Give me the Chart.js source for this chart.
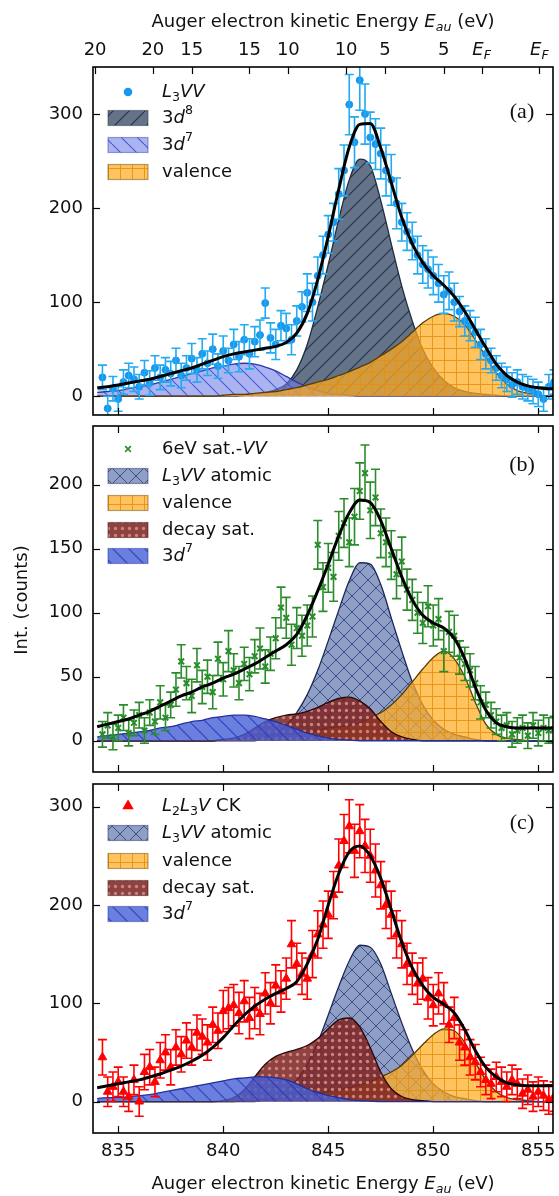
<!DOCTYPE html>
<html>
<head>
<meta charset="utf-8">
<script src="https://cdn.jsdelivr.net/npm/chart.js@4.4.0/dist/chart.umd.min.js"></script>
<style>
  body { margin: 0; background: #fff; }
  #wrap { position: relative; width: 559px; height: 1196px; }
  canvas { position: absolute; left: 0; }
</style>
</head>
<body>
<div id="wrap">
  <canvas id="pa" width="559" height="420" style="top:0;width:559px;height:420px"></canvas>
  <canvas id="pb" width="559" height="358" style="top:420px;width:559px;height:358px"></canvas>
  <canvas id="pc" width="559" height="418" style="top:778px;width:559px;height:418px"></canvas>
</div>
<script>
// x axis (eV)
const XMIN = 833.8, XMAX = 855.7;
const xTickVals = [835, 840, 845, 850, 855];
// top axis: positions on the bottom scale and their labels
const topTickPos = [833.9, 836.65, 838.5, 841.25, 843.1, 845.85, 847.7, 850.5, 852.3, 855.05];
const topTickLabels = ['20', '20', '15', '15', '10', '10', '5', '5', 'E_F', 'E_F'];

// grid of the fit curves
const fitE = [834, 834.5, 835, 835.5, 836, 836.5, 837, 837.5, 838, 838.5, 839, 839.5, 840, 840.5,
  841, 841.5, 842, 842.5, 843, 843.5, 844, 844.5, 845, 845.5, 846, 846.5, 847, 847.5, 848, 848.5,
  849, 849.5, 850, 850.5, 851, 851.5, 852, 852.5, 853, 853.5, 854, 854.5, 855, 855.5, 856];

// measured energies
const energies = [834.25, 834.5, 834.75, 835, 835.25, 835.5, 835.75, 836, 836.25, 836.5, 836.75, 837,
  837.25, 837.5, 837.75, 838, 838.25, 838.5, 838.75, 839, 839.25, 839.5, 839.75, 840,
  840.25, 840.5, 840.75, 841, 841.25, 841.5, 841.75, 842, 842.25, 842.5, 842.75, 843,
  843.25, 843.5, 843.75, 844, 844.25, 844.5, 844.75, 845, 845.25, 845.5, 845.75, 846,
  846.25, 846.5, 846.75, 847, 847.25, 847.5, 847.75, 848, 848.25, 848.5, 848.75, 849,
  849.25, 849.5, 849.75, 850, 850.25, 850.5, 850.75, 851, 851.25, 851.5, 851.75, 852,
  852.25, 852.5, 852.75, 853, 853.25, 853.5, 853.75, 854, 854.25, 854.5, 854.75, 855,
  855.25, 855.5, 855.75];

// ---- panel (a) L3VV ----
const a3d8 = [0, 0, 0, 0, 0, 0, 0, 0, 0, 0, 0, 0, 0, 0, 1, 2, 4, 7, 13, 28, 55, 95, 140, 188, 230, 252,
  245, 208, 162, 117, 80, 50, 30, 17, 9, 5, 3, 2, 1, 0, 0, 0, 0, 0, 0];
const a3d7 = [4, 5, 6, 8, 10, 12, 15, 18, 21, 24, 27, 30, 32, 34, 35, 34, 31, 27, 21, 15, 10, 6, 3, 2, 1,
  0, 0, 0, 0, 0, 0, 0, 0, 0, 0, 0, 0, 0, 0, 0, 0, 0, 0, 0, 0];
const aVal = [0, 0, 0, 0, 0, 0, 0, 0, 0, 0, 0, 0, 1, 2, 2, 3, 4, 5, 7, 9, 12, 15, 18, 22, 26, 31, 36, 43,
  50, 58, 68, 78, 85, 88, 85, 76, 60, 42, 25, 13, 6, 3, 1, 0, 0];
const aTot = [9, 10, 12, 14, 16, 18, 21, 24, 27, 30, 34, 38, 42, 45, 47, 49, 51, 53, 57, 67, 88, 124, 170,
  220, 265, 289, 290, 264, 227, 190, 162, 142, 128, 118, 106, 90, 71, 52, 34, 22, 15, 11, 9, 8, 8];
const aPts = [20, -13, 8, -3, 15, 22, 18, 10, 25, 14, 30, 20, 28, 24, 38, 22, 30, 40, 28, 45, 35, 50, 32, 48,
  38, 55, 42, 60, 45, 58, 65, 99, 62, 55, 75, 72, 60, 80, 95, 110, 100, 128, 150, 172, 185, 215, 240, 310,
  270, 336, 300, 275, 268, 258, 240, 230, 205, 185, 175, 165, 150, 140, 135, 128, 120, 108, 112, 100,
  90, 80, 75, 68, 55, 45, 38, 30, 22, 18, 12, 15, 10, 8, 5, 2, -3, 10, 15];
const aErr = [13, 13, 13, 13, 13, 13, 13, 13, 13, 13, 13, 13, 13, 13, 13, 13, 13, 16, 13, 16, 13, 16, 13, 16,
  13, 16, 16, 16, 16, 16, 16, 16, 16, 16, 16, 16, 16, 16, 16, 20, 20, 20, 20, 20, 20, 27, 27, 32,
  27, 32, 32, 27, 27, 27, 27, 27, 27, 20, 20, 20, 20, 20, 20, 20, 20, 20, 20, 20,
  16, 16, 16, 16, 16, 16, 13, 13, 13, 13, 13, 13, 13, 13, 13, 13, 13, 13, 13];

// ---- panel (b) 6eV sat.-VV ----
const bAtom = [0, 0, 0, 0, 0, 0, 0, 0, 0, 0, 0, 0, 0, 0, 0, 0, 3, 6, 12, 22, 36, 55, 78, 102, 125, 139,
  138, 122, 96, 70, 46, 28, 16, 9, 5, 3, 1, 0, 0, 0, 0, 0, 0, 0, 0];
const bVal = [0, 0, 0, 0, 0, 0, 0, 0, 0, 0, 0, 0, 1, 1, 2, 2, 3, 4, 5, 6, 7, 8, 10, 11, 12, 14, 18, 22,
  28, 36, 46, 56, 65, 70, 64, 50, 30, 13, 5, 2, 1, 0, 0, 0, 0];
const bDecay = [0, 0, 0, 0, 0, 0, 0, 0, 0, 0, 0, 0, 1, 2, 5, 10, 15, 18, 20, 21, 23, 26, 30, 33, 34, 31,
  25, 15, 7, 3, 1, 0, 0, 0, 0, 0, 0, 0, 0, 0, 0, 0, 0, 0, 0];
const b3d7 = [3, 4, 5, 6, 7, 8, 10, 11, 13, 15, 16, 18, 19, 20, 20, 19, 17, 15, 12, 9, 6, 4, 2, 1, 0.5,
  0, 0, 0, 0, 0, 0, 0, 0, 0, 0, 0, 0, 0, 0, 0, 0, 0, 0, 0, 0];
const bTot = [11, 13, 15, 17, 20, 23, 27, 31, 35, 38, 42, 45, 49, 52, 56, 60, 65, 70, 75, 83, 98, 117, 138,
  160, 178, 188, 186, 172, 150, 128, 110, 98, 92, 88, 80, 64, 42, 24, 14, 11, 10, 10, 10, 10, 10];
const bPts = [5, 12, 3, 10, 18, 6, 14, 20, 8, 22, 15, 30, 18, 28, 40, 62, 45, 35, 59, 42, 50, 38, 64, 48,
  70, 55, 45, 60, 52, 66, 72, 58, 68, 80, 104, 96, 75, 88, 82, 90, 97, 153, 120, 135, 128, 160, 170, 155,
  175, 195, 209, 180, 190, 162, 155, 145, 130, 140, 118, 110, 100, 92, 105, 90, 95, 70, 85, 82,
  65, 60, 55, 45, 30, 28, 20, 15, 10, 12, 5, 8, 10, 4, 12, 6, 10, 8, 9];
const bErr = [10, 10, 10, 10, 10, 10, 10, 10, 10, 10, 10, 13, 10, 10, 13, 13, 13, 13, 13, 13, 13, 13, 13, 13,
  16, 13, 13, 13, 13, 13, 16, 13, 13, 16, 16, 16, 16, 16, 16, 16, 16, 19, 19, 19, 19, 19, 19, 19,
  22, 22, 22, 22, 22, 19, 19, 19, 19, 19, 16, 16, 16, 16, 16, 16, 16, 16, 16, 16,
  13, 13, 13, 13, 13, 10, 10, 10, 10, 10, 10, 10, 10, 10, 10, 10, 10, 10, 10];

// ---- panel (c) L2L3V CK ----
const cAtom = [0, 0, 0, 0, 0, 0, 0, 0, 0, 0, 0, 0, 0, 0, 0, 0, 3, 6, 12, 22, 38, 60, 88, 117, 143, 159,
  157, 140, 110, 80, 53, 32, 18, 10, 5, 3, 1, 0, 0, 0, 0, 0, 0, 0, 0];
const cVal = [0, 0, 0, 0, 0, 0, 0, 0, 0, 0, 0, 0, 0, 0, 1, 1, 2, 3, 4, 5, 7, 8, 10, 12, 14, 17, 20, 25,
  30, 37, 47, 58, 68, 74, 72, 60, 40, 22, 10, 4, 2, 1, 0, 0, 0];
const cDecay = [0, 0, 0, 0, 0, 0, 0, 0, 0, 0, 0, 0, 1, 4, 12, 25, 38, 46, 50, 53, 57, 64, 74, 83, 85, 76,
  55, 30, 13, 5, 2, 1, 0, 0, 0, 0, 0, 0, 0, 0, 0, 0, 0, 0, 0];
const c3d7 = [3, 4, 4, 5, 6, 7, 9, 11, 13, 15, 17, 19, 21, 23, 24, 25, 25, 24, 22, 18, 13, 9, 6, 4, 2, 1,
  0.5, 0, 0, 0, 0, 0, 0, 0, 0, 0, 0, 0, 0, 0, 0, 0, 0, 0, 0];
const cTot = [14, 16, 18, 20, 22, 25, 28, 32, 36, 41, 47, 55, 65, 77, 88, 97, 104, 110, 115, 122, 140, 165,
  200, 232, 254, 260, 250, 227, 195, 162, 136, 118, 106, 99, 90, 73, 52, 35, 25, 19, 17, 16, 16, 16, 16];
const cPts = [45, 10, 15, 20, 10, 5, 22, 0, 30, 35, 20, 42, 50, 35, 55, 48, 62, 55, 70, 66, 60, 78, 72, 92,
  95, 98, 90, 102, 85, 95, 89, 110, 100, 118, 112, 125, 160, 140, 130, 125, 150, 170, 180, 190, 210, 240, 265, 280,
  255, 275, 260, 250, 235, 220, 200, 190, 170, 160, 140, 130, 120, 125, 105, 98, 110, 100, 78, 85,
  60, 55, 45, 40, 30, 22, 18, 25, 20, 15, 22, 18, 8, 12, 5, 10, 6, 2, 5];
const cErr = [18, 15, 15, 15, 15, 15, 15, 15, 18, 18, 15, 18, 18, 18, 18, 18, 18, 18, 18, 18, 18, 18, 18, 21,
  21, 21, 21, 21, 21, 21, 21, 21, 21, 21, 21, 21, 24, 21, 21, 21, 24, 24, 24, 24, 24, 27, 27, 27,
  27, 27, 27, 27, 27, 24, 24, 24, 24, 24, 21, 21, 21, 21, 21, 21, 21, 21, 18, 21,
  18, 18, 18, 18, 15, 15, 15, 15, 15, 15, 15, 15, 15, 15, 15, 15, 15, 15, 15];

const SANS = '"DejaVu Sans", "Liberation Sans", sans-serif';
Chart.defaults.font.family = SANS;
Chart.defaults.font.size = 18;
Chart.defaults.color = '#111';

// mixed italic / sub / sup text
function rich(ctx, segs, x, y, size, align) {
  const f = s => (s.i ? 'italic ' : '') + ((s.sub || s.sup) ? size * 0.7 : size) + 'px ' + SANS;
  let w = 0;
  const ws = segs.map(s => { ctx.font = f(s); const m = ctx.measureText(s.t).width; w += m; return m; });
  let cx = align === 'center' ? x - w / 2 : x;
  ctx.textAlign = 'left';
  ctx.textBaseline = 'middle';
  segs.forEach((s, k) => {
    ctx.font = f(s);
    const dy = s.sub ? size * 0.3 : s.sup ? -size * 0.38 : 0;
    ctx.fillText(s.t, cx, y + dy);
    cx += ws[k];
  });
}

function hatch(ctx, bg, fg, kind, S, lw) {
  const c = document.createElement('canvas');
  c.width = c.height = S;
  const g = c.getContext('2d');
  g.fillStyle = bg; g.fillRect(0, 0, S, S);
  g.strokeStyle = fg; g.fillStyle = fg; g.lineWidth = lw;
  const seg = (x1, y1, x2, y2) => { g.beginPath(); g.moveTo(x1, y1); g.lineTo(x2, y2); g.stroke(); };
  if (kind === '/' || kind === 'x') [-S, 0, S].forEach(k => seg(k, S, k + S, 0));
  if (kind === '\\' || kind === 'x') [-S, 0, S].forEach(k => seg(k, 0, k + S, S));
  if (kind === '+') { seg(0, 0.5, S, 0.5); seg(0.5, 0, 0.5, S); }
  if (kind === 'o') { g.beginPath(); g.arc(S / 2, S / 2, S * 0.24, 0, Math.PI * 2); g.fill(); }
  return ctx.createPattern(c, 'repeat');
}

const L3VV = [{ t: 'L', i: 1 }, { t: '3', sub: 1 }, { t: 'VV', i: 1 }];
const txt = {
  d8: [{ t: '3' }, { t: 'd', i: 1 }, { t: '8', sup: 1 }],
  d7: [{ t: '3' }, { t: 'd', i: 1 }, { t: '7', sup: 1 }],
  val: [{ t: 'valence' }],
  atom: L3VV.concat([{ t: ' atomic' }]),
  decay: [{ t: 'decay sat.' }]
};

const FILL = {
  d8: ['rgba(78,96,120,0.88)', 'rgba(30,45,70,0.9)', '/', 16, 1.2],
  d7a: ['rgba(115,128,232,0.6)', 'rgba(60,80,210,0.85)', '\\', 16, 1.2],
  d7: ['rgba(70,95,215,0.8)', 'rgba(40,60,190,0.9)', '\\', 16, 1.2],
  val: ['rgba(255,172,35,0.72)', 'rgba(232,145,15,0.9)', '+', 12, 1],
  atom: ['rgba(105,125,178,0.75)', 'rgba(45,65,125,0.85)', 'x', 16, 1],
  decay: ['rgba(125,35,35,0.86)', 'rgba(215,140,130,0.9)', 'o', 7, 1]
};
const EDGE = { d8: '#1f2d45', d7a: '#2a3aa8', d7: '#22309a', val: '#5a3d00', atom: '#1c2856', decay: '#2b0808' };

function panel(id, o) {
  const canvas = document.getElementById(id);
  const ctx = canvas.getContext('2d');
  const comps = o.comps.map(c => Object.assign({}, c, { pattern: hatch(ctx, ...FILL[c.key]) }));

  const datasets = [
    { type: 'line', data: fitE.map((e, i) => ({ x: e, y: o.total[i] })), borderColor: '#000', borderWidth: 3,
      pointRadius: 0, fill: false, cubicInterpolationMode: 'monotone', order: 0 },
    { type: 'scatter', data: energies.map((e, i) => ({ x: e, y: o.pts[i] })), err: o.err, errColor: o.errColor,
      pointStyle: o.marker, pointRadius: o.mr, backgroundColor: o.ptColor, borderColor: o.ptColor,
      borderWidth: o.mbw, order: 1 }
  ];
  comps.forEach((c, k) => datasets.push({
    type: 'line', data: fitE.map((e, i) => ({ x: e, y: c.data[i] })), borderColor: EDGE[c.key],
    borderWidth: 1.3, backgroundColor: c.pattern, fill: 'origin', pointRadius: 0,
    cubicInterpolationMode: 'monotone', order: 10 - k
  }));

  const errBars = {
    id: 'errbars',
    afterDatasetDraw(chart, args) {
      const ds = chart.data.datasets[args.index];
      if (!ds.err) return;
      const a = chart.chartArea, x = chart.scales.x, y = chart.scales.y;
      ctx.save();
      ctx.beginPath(); ctx.rect(a.left, a.top, a.right - a.left, a.bottom - a.top); ctx.clip();
      ctx.strokeStyle = ds.errColor; ctx.lineWidth = 1.6;
      ds.data.forEach((p, i) => {
        const px = x.getPixelForValue(p.x);
        const y1 = y.getPixelForValue(p.y - ds.err[i]), y2 = y.getPixelForValue(p.y + ds.err[i]);
        ctx.beginPath();
        ctx.moveTo(px, y1); ctx.lineTo(px, y2);
        ctx.moveTo(px - 4.5, y1); ctx.lineTo(px + 4.5, y1);
        ctx.moveTo(px - 4.5, y2); ctx.lineTo(px + 4.5, y2);
        ctx.stroke();
      });
      ctx.restore();
    }
  };

  const deco = {
    id: 'deco',
    afterDraw(chart) {
      const a = chart.chartArea, sx = chart.scales.x, sy = chart.scales.y;
      ctx.save();
      ctx.strokeStyle = '#000'; ctx.lineWidth = 1.2;
      const line = (x1, y1, x2, y2) => { ctx.beginPath(); ctx.moveTo(x1, y1); ctx.lineTo(x2, y2); ctx.stroke(); };
      xTickVals.forEach(v => { const px = Math.round(sx.getPixelForValue(v)) + 0.5; line(px, a.bottom, px, a.bottom - 7); });
      if (o.top) {
        const st = chart.scales.xTop;
        topTickPos.forEach(v => { const px = Math.round(st.getPixelForValue(v)) + 0.5; line(px, a.top, px, a.top + 7); });
      } else {
        xTickVals.forEach(v => { const px = Math.round(sx.getPixelForValue(v)) + 0.5; line(px, a.top, px, a.top + 7); });
      }
      o.yTicks.forEach(v => {
        const py = Math.round(sy.getPixelForValue(v)) + 0.5;
        line(a.left, py, a.left + 7, py); line(a.right, py, a.right - 7, py);
      });
      ctx.lineWidth = 1.6;
      ctx.strokeRect(a.left, a.top, a.right - a.left, a.bottom - a.top);

      ctx.fillStyle = '#111';
      if (o.top) {
        const st = chart.scales.xTop;
        topTickPos.forEach((v, k) => {
          const px = st.getPixelForValue(v);
          const segs = topTickLabels[k] === 'E_F' ? [{ t: 'E', i: 1 }, { t: 'F', i: 1, sub: 1 }] : [{ t: topTickLabels[k] }];
          rich(ctx, segs, px, 50, 18, 'center');
        });
        rich(ctx, [{ t: 'Auger electron kinetic Energy ' }, { t: 'E', i: 1 }, { t: 'au', i: 1, sub: 1 }, { t: ' (eV)' }],
          (a.left + a.right) / 2, 22, 18, 'center');
      }
      if (o.bottomTitle) {
        rich(ctx, [{ t: 'Auger electron kinetic Energy ' }, { t: 'E', i: 1 }, { t: 'au', i: 1, sub: 1 }, { t: ' (eV)' }],
          (a.left + a.right) / 2, o.bottomTitle, 18, 'center');
      }
      if (o.yTitle) {
        ctx.save();
        ctx.translate(22, o.yTitle);
        ctx.rotate(-Math.PI / 2);
        ctx.font = '18px ' + SANS; ctx.textAlign = 'center'; ctx.textBaseline = 'middle';
        ctx.fillText('Int. (counts)', 0, 0);
        ctx.restore();
      }

      // panel tag
      ctx.font = '22px "Liberation Serif", "DejaVu Serif", serif';
      ctx.textAlign = 'center'; ctx.textBaseline = 'middle';
      ctx.fillText(o.tag, 522, o.tagY);

      // legend
      const rows = o.legendY;
      ctx.fillStyle = o.ptColor; ctx.strokeStyle = o.ptColor;
      Chart.helpers.drawPoint(ctx, { pointStyle: o.marker, radius: o.mr, borderWidth: o.mbw }, 128, rows[0]);
      ctx.fillStyle = '#111';
      rich(ctx, o.ptLabel, 162, rows[0], 18, 'left');
      comps.forEach((c, k) => {
        const yy = rows[k + 1];
        ctx.fillStyle = c.pattern;
        ctx.fillRect(108, yy - 7.5, 40, 15);
        ctx.globalAlpha = 0.45; ctx.strokeStyle = EDGE[c.key]; ctx.lineWidth = 1.2;
        ctx.strokeRect(108, yy - 7.5, 40, 15);
        ctx.globalAlpha = 1;
        ctx.fillStyle = '#111';
        rich(ctx, c.label, 162, yy, 18, 'left');
      });
      ctx.restore();
    }
  };

  const noPad = s => { s.paddingTop = 0; s.paddingBottom = 0; s.paddingLeft = 0; s.paddingRight = 0; };

  return new Chart(canvas, {
    type: 'line',
    data: { datasets },
    options: {
      responsive: false,
      animation: false,
      layout: { padding: { left: 0, right: 6, top: o.padTop, bottom: o.padBottom } },
      plugins: { legend: { display: false }, tooltip: { enabled: false } },
      scales: {
        x: {
          type: 'linear', min: XMIN, max: XMAX, position: 'bottom', display: !!o.bottom,
          grid: { display: false, drawTicks: false }, border: { display: false },
          ticks: { padding: 8, autoSkip: false, maxRotation: 0, color: '#111' },
          afterBuildTicks: s => { s.ticks = xTickVals.map(v => ({ value: v })); },
          afterFit: s => { s.height = o.bottom || 0; noPad(s); }
        },
        xTop: {
          type: 'linear', min: XMIN, max: XMAX, position: 'top', display: !!o.top,
          grid: { display: false, drawTicks: false }, border: { display: false },
          ticks: { display: false },
          afterFit: s => { s.height = o.top || 0; noPad(s); }
        },
        y: {
          min: o.ymin, max: o.ymax,
          grid: { display: false, drawTicks: false }, border: { display: false },
          ticks: { padding: 10, color: '#111' },
          afterBuildTicks: s => { s.ticks = o.yTicks.map(v => ({ value: v })); },
          afterFit: s => { s.width = 93; noPad(s); }
        }
      }
    },
    plugins: [errBars, deco]
  });
}

panel('pa', {
  ymin: -20, ymax: 350, yTicks: [0, 100, 200, 300], padTop: 0, padBottom: 2, top: 67,
  total: aTot, pts: aPts, err: aErr, errColor: '#22aaf2', ptColor: '#1a96ee', marker: 'circle', mr: 3.5, mbw: 1,
  ptLabel: L3VV, tag: '(a)', tagY: 112, legendY: [92, 118, 145, 172],
  comps: [
    { key: 'd8', data: a3d8, label: txt.d8 },
    { key: 'd7a', data: a3d7, label: txt.d7 },
    { key: 'val', data: aVal, label: txt.val }
  ]
});

panel('pb', {
  ymin: -24.4, ymax: 245.8, yTicks: [0, 50, 100, 150, 200], padTop: 2, padBottom: 2,
  total: bTot, pts: bPts, err: bErr, errColor: '#2a8c2a', ptColor: '#2a8c2a', marker: 'crossRot', mr: 4, mbw: 2,
  ptLabel: [{ t: '6eV sat.-' }, { t: 'VV', i: 1 }], tag: '(b)', tagY: 45, legendY: [29, 56, 83, 110, 136],
  yTitle: 180,
  comps: [
    { key: 'atom', data: bAtom, label: txt.atom },
    { key: 'val', data: bVal, label: txt.val },
    { key: 'decay', data: bDecay, label: txt.decay },
    { key: 'd7', data: b3d7, label: txt.d7 }
  ]
});

panel('pc', {
  ymin: -32, ymax: 323, yTicks: [0, 100, 200, 300], padTop: 3, padBottom: 0, bottom: 63,
  total: cTot, pts: cPts, err: cErr, errColor: '#ff0000', ptColor: '#ff0000', marker: 'triangle', mr: 5, mbw: 1,
  ptLabel: [{ t: 'L', i: 1 }, { t: '2', sub: 1 }, { t: 'L', i: 1 }, { t: '3', sub: 1 }, { t: 'V', i: 1 }, { t: ' CK' }],
  tag: '(c)', tagY: 45, legendY: [28, 55, 83, 110, 136], bottomTitle: 406,
  comps: [
    { key: 'atom', data: cAtom, label: txt.atom },
    { key: 'val', data: cVal, label: txt.val },
    { key: 'decay', data: cDecay, label: txt.decay },
    { key: 'd7', data: c3d7, label: txt.d7 }
  ]
});
</script>
</body>
</html>
